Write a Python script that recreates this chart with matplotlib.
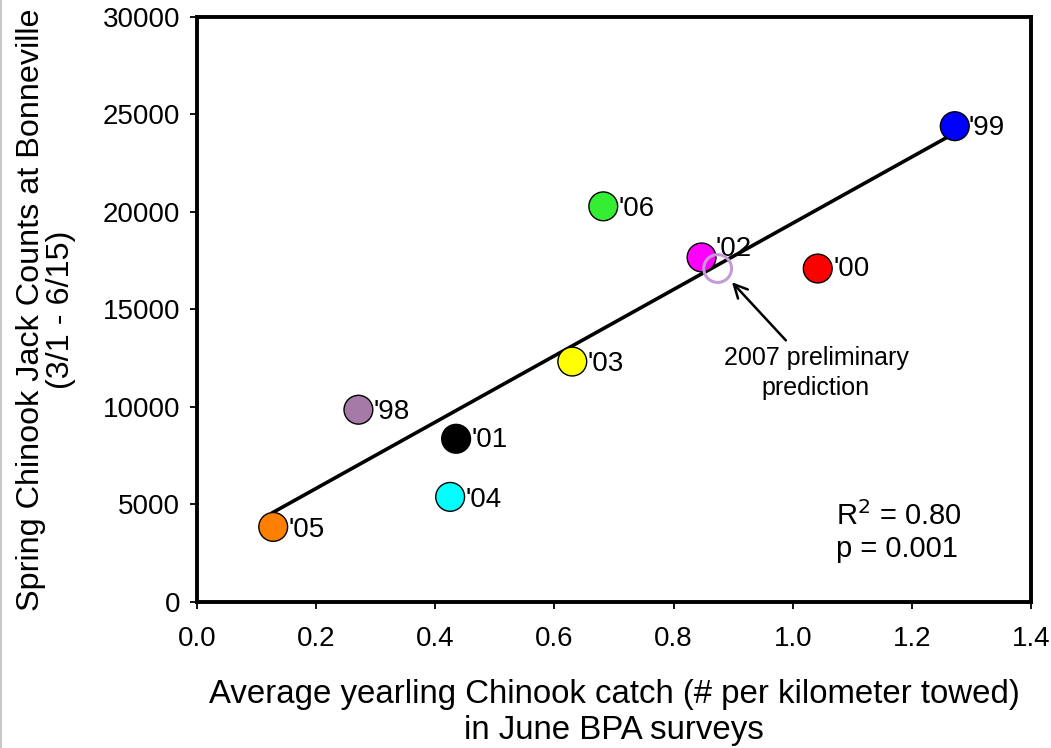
import matplotlib
matplotlib.use("Agg")
import matplotlib.pyplot as plt
import numpy as np

plt.rcParams["font.family"] = ["Liberation Sans", "DejaVu Sans"]

# data
years = ["'05", "'98", "'04", "'01", "'03", "'06", "'02", "'00", "'99"]
catch = [0.128, 0.271, 0.425, 0.435, 0.630, 0.682, 0.847, 1.042, 1.272]
jacks = [3850, 9860, 5390, 8370, 12330, 20290, 17670, 17100, 24400]
colors = ["#ff8000", "#a67aa6", "#00ffff", "#000000", "#ffff00",
          "#33ee33", "#ff00ff", "#ff0000", "#0000ff"]
pred_x = 0.874
pred_y = 17100

# label offsets (points) for each year tag
offsets = [(11, -2), (11, -2), (11, -2), (11, -1), (11, -2),
           (11, -2), (10, 6), (11, 0), (10, -1)]

fig = plt.figure(figsize=(10.51, 7.48), dpi=100)
ax = fig.add_axes([0.1874, 0.1952, 0.7936, 0.7821])

# regression line over the observed range
slope, icpt = np.polyfit(catch, jacks, 1)
xl = np.array([min(catch), max(catch)])
ax.plot(xl, slope * xl + icpt, color="black", lw=2.6, zorder=2)

ax.scatter(catch, jacks, s=430, c=colors, edgecolors="black",
           linewidths=1.0, zorder=3)
ax.scatter([pred_x], [pred_y], s=400, facecolors="none",
           edgecolors="#c39bd8", linewidths=2.2, zorder=4)

for yr, x, y, off in zip(years, catch, jacks, offsets):
    ax.annotate(yr, (x, y), xytext=off, textcoords="offset points",
                fontsize=20, va="center", ha="left")

ax.annotate("2007 preliminary\nprediction", xy=(0.898, 16400),
            xytext=(1.039, 11750), textcoords="data", ha="center",
            va="center", fontsize=18, linespacing=1.28,
            arrowprops=dict(arrowstyle="->", color="black", lw=1.8,
                            mutation_scale=24, shrinkA=3, shrinkB=0))

ax.text(1.073, 3600, "R$^2$ = 0.80\np = 0.001", fontsize=21,
        ha="left", va="center", linespacing=1.2)

ax.set_xlim(0, 1.4)
ax.set_ylim(0, 30000)
ax.set_xticks(np.arange(0, 1.41, 0.2))
ax.set_xticklabels(["0.0", "0.2", "0.4", "0.6", "0.8", "1.0", "1.2", "1.4"])
ax.set_yticks(np.arange(0, 30001, 5000))
ax.tick_params(labelsize=20, length=5, width=1.3)
ax.tick_params(axis="x", pad=12)
ax.tick_params(axis="y", pad=7)
for s in ax.spines.values():
    s.set_linewidth(2.8)

ax.set_xlabel("Average yearling Chinook catch (# per kilometer towed)\n"
              "in June BPA surveys", fontsize=23.8, labelpad=20, linespacing=1.2)
ax.set_ylabel("Spring Chinook Jack Counts at Bonneville\n(3/1 - 6/15)",
              fontsize=23.3, labelpad=19, linespacing=1.02)

# thin grey edge at the left of the picture
fig.add_artist(plt.Line2D([0.001, 0.001], [0, 1], color="#c8c8c8", lw=1.5))

fig.savefig("out.png", dpi=100)
